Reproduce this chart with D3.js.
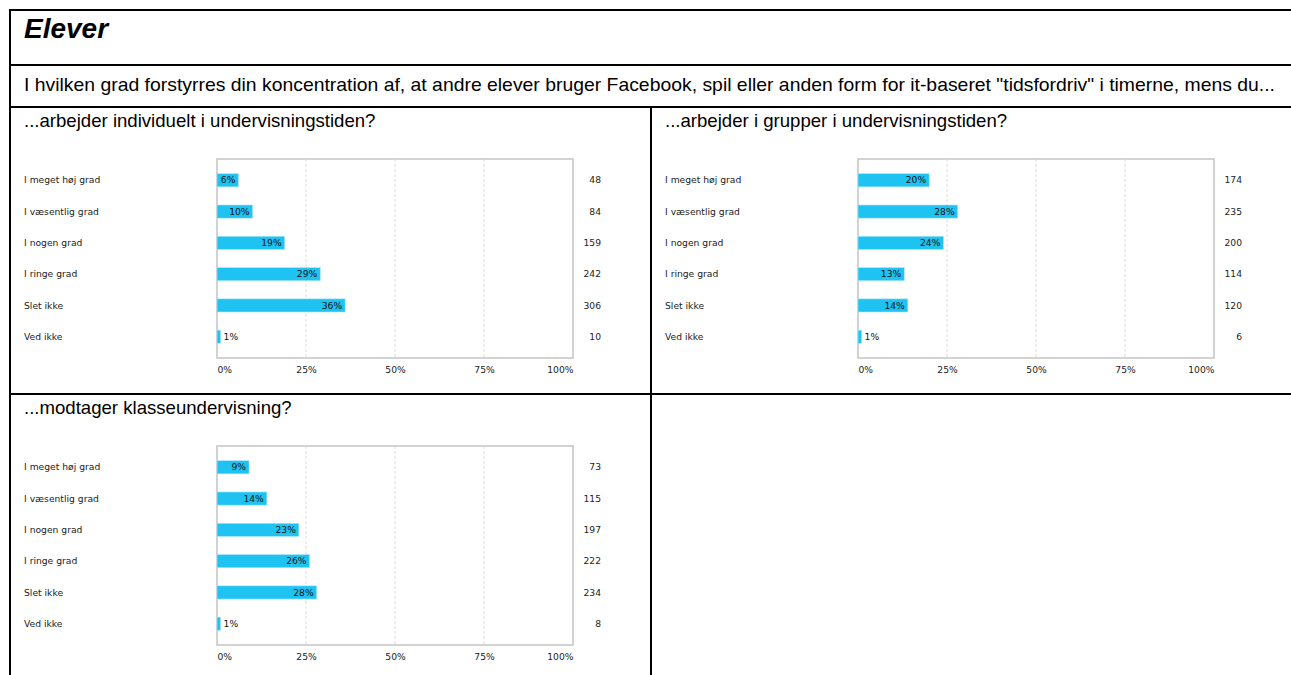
<!DOCTYPE html>
<html>
<head>
<meta charset="utf-8">
<script src="https://cdn.jsdelivr.net/npm/d3@7"></script>
<style>
  body { margin: 0; background: #fff; }
  svg { display: block; }
</style>
</head>
<body>
<div id="chart"></div>
<script>
// Answer categories (same for all three questions)
const categories = ["I meget høj grad", "I væsentlig grad", "I nogen grad", "I ringe grad", "Slet ikke", "Ved ikke"];

// ...arbejder individuelt i undervisningstiden?
const pctIndividuelt = [6, 10, 19, 29, 36, 1];
const nIndividuelt = [48, 84, 159, 242, 306, 10];

// ...arbejder i grupper i undervisningstiden?
const pctGrupper = [20, 28, 24, 13, 14, 1];
const nGrupper = [174, 235, 200, 114, 120, 6];

// ...modtager klasseundervisning?
const pctKlasse = [9, 14, 23, 26, 28, 1];
const nKlasse = [73, 115, 197, 222, 234, 8];

const xTicks = [0, 25, 50, 75, 100];

const W = 1291, H = 675;
const sans = "'Liberation Sans', Arial, sans-serif";
const small = "'DejaVu Sans', Verdana, sans-serif";

const svg = d3.select("#chart").append("svg")
    .attr("width", W)
    .attr("height", H);

// Table frame
const left = 10, colSplit = 651;
const rows = [10, 65, 107, 394];
const frame = svg.append("g").attr("stroke", "#000").attr("stroke-width", 2);
rows.forEach(y => frame.append("line").attr("x1", left - 1).attr("x2", W).attr("y1", y).attr("y2", y));
frame.append("line").attr("x1", left).attr("x2", left).attr("y1", rows[0] - 1).attr("y2", H);
frame.append("line").attr("x1", colSplit).attr("x2", colSplit).attr("y1", rows[2]).attr("y2", H);

svg.append("text")
    .attr("x", 24).attr("y", 38)
    .attr("font-family", sans).attr("font-size", 28)
    .attr("font-weight", "bold").attr("font-style", "italic")
    .text("Elever");

svg.append("text")
    .attr("x", 24).attr("y", 91)
    .attr("font-family", sans).attr("font-size", 19)
    .attr("textLength", 1251).attr("lengthAdjust", "spacingAndGlyphs")
    .text("I hvilken grad forstyrres din koncentration af, at andre elever bruger Facebook, spil eller anden form for it-baseret \"tidsfordriv\" i timerne, mens du...");

// one chart cell
function drawPanel(x0, y0, title, pct, counts) {
    const g = svg.append("g").attr("transform", `translate(${x0},${y0})`);

    g.append("text")
        .attr("x", 14).attr("y", 20)
        .attr("font-family", sans).attr("font-size", 18.6)
        .text(title);

    const plot = { left: 207, right: 563, top: 52, bottom: 251 };

    const x = d3.scaleLinear().domain([0, 100]).range([plot.left, plot.right]);
    const y = d3.scaleBand().domain(categories)
        .range([plot.top, plot.bottom])
        .paddingInner(0.58).paddingOuter(0.47);

    // plot box
    g.append("rect")
        .attr("x", plot.left).attr("y", plot.top)
        .attr("width", plot.right - plot.left).attr("height", plot.bottom - plot.top)
        .attr("fill", "#fff").attr("stroke", "#c4c4c4").attr("stroke-width", 1.5);

    // dashed grid
    g.selectAll(".grid")
        .data(xTicks.slice(1, -1))
        .enter().append("line")
        .attr("x1", d => x(d)).attr("x2", d => x(d))
        .attr("y1", plot.top).attr("y2", plot.bottom)
        .attr("stroke", "#dcdcdc").attr("stroke-dasharray", "3,2");

    // bars
    g.selectAll(".bar")
        .data(pct)
        .enter().append("rect")
        .attr("x", x(0))
        .attr("y", (d, i) => y(categories[i]))
        .attr("width", d => x(d) - x(0))
        .attr("height", y.bandwidth())
        .attr("fill", "#1fc3f2")
        .attr("stroke", "#a8e6fa").attr("stroke-width", 0.6);

    // bar labels
    g.selectAll(".lbl")
        .data(pct)
        .enter().append("text")
        .attr("x", d => d >= 5 ? x(d) - 3 : x(d) + 3)
        .attr("y", (d, i) => y(categories[i]) + y.bandwidth() / 2)
        .attr("dy", "0.35em")
        .attr("text-anchor", d => d >= 5 ? "end" : "start")
        .attr("font-family", small).attr("font-size", 9.2).attr("fill", "#111")
        .text(d => d + "%");

    // category labels
    g.selectAll(".cat")
        .data(categories)
        .enter().append("text")
        .attr("x", 14)
        .attr("y", d => y(d) + y.bandwidth() / 2)
        .attr("dy", "0.35em")
        .attr("font-family", small).attr("font-size", 9.2).attr("fill", "#222")
        .text(d => d);

    // counts
    g.selectAll(".cnt")
        .data(counts)
        .enter().append("text")
        .attr("x", plot.right + 28)
        .attr("y", (d, i) => y(categories[i]) + y.bandwidth() / 2)
        .attr("dy", "0.35em")
        .attr("text-anchor", "end")
        .attr("font-family", small).attr("font-size", 9.2).attr("fill", "#222")
        .text(d => d);

    // x axis
    const ax = g.append("g")
        .attr("transform", `translate(0,${plot.bottom})`)
        .call(d3.axisBottom(x).tickValues(xTicks).tickSize(0).tickPadding(8).tickFormat(d => d + "%"));
    ax.select(".domain").remove();
    ax.selectAll("text")
        .attr("font-family", small).attr("font-size", 9.2).attr("fill", "#222")
        .attr("text-anchor", (d, i) => i === 0 ? "start" : (i === xTicks.length - 1 ? "end" : "middle"));
}

drawPanel(left, rows[2], "...arbejder individuelt i undervisningstiden?", pctIndividuelt, nIndividuelt);
drawPanel(colSplit, rows[2], "...arbejder i grupper i undervisningstiden?", pctGrupper, nGrupper);
drawPanel(left, rows[3], "...modtager klasseundervisning?", pctKlasse, nKlasse);
</script>
</body>
</html>
